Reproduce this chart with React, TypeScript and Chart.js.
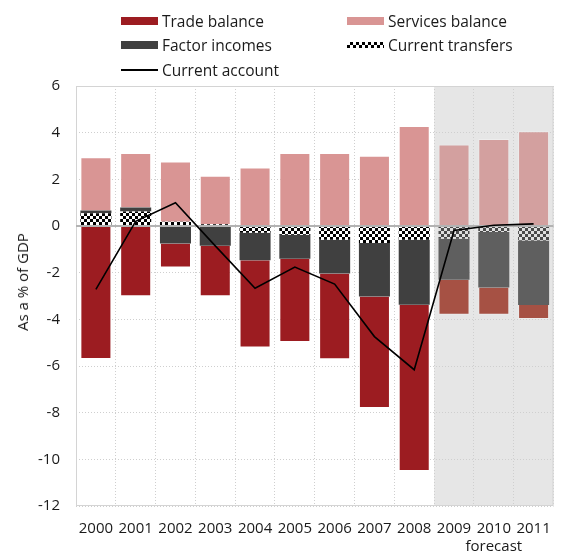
import React, { useEffect, useRef } from "react";
import { Chart, registerables } from "chart.js";

Chart.register(...registerables);

// Current account components, % of GDP
const years = ["2000", "2001", "2002", "2003", "2004", "2005", "2006", "2007", "2008", "2009", "2010", "2011"];
const tradeBalance = [-5.7, -3.01, -1.03, -2.16, -3.74, -3.57, -3.67, -4.78, -7.12, -1.5, -1.16, -0.6];
const servicesBalance = [2.29, 2.34, 2.58, 2.07, 2.51, 3.13, 3.13, 3.01, 4.29, 3.49, 3.73, 4.06];
const factorIncomes = [0.11, 0.17, -0.75, -0.85, -1.18, -1.02, -1.45, -2.29, -2.79, -1.75, -2.38, -2.77];
const currentTransfers = [0.55, 0.62, 0.18, 0.08, -0.29, -0.38, -0.59, -0.73, -0.59, -0.55, -0.26, -0.62];
const currentAccount = [-2.72, 0.2, 1.0, -0.85, -2.67, -1.76, -2.49, -4.74, -6.16, -0.19, 0.03, 0.09];
const forecastStart = 9; // first forecast year index (2009)
const forecastLabelYear = "2010";
const yMin = -12;
const yMax = 6;
const yStep = 2;

const FONT = '"Open Sans", "DejaVu Sans", sans-serif';
const TEXT = "#1a1a1a";

const C = {
  trade: "#9c1c21",
  tradeF: "#a65144",
  services: "#d99594",
  servicesF: "#d3a09f",
  factor: "#404040",
  factorF: "#5f5f5f",
  shade: "#e6e6e6",
};

function checker(a: string, b: string, cell = 3): CanvasPattern | string {
  const c = document.createElement("canvas");
  c.width = cell * 2;
  c.height = cell * 2;
  const g = c.getContext("2d");
  if (!g) return a;
  g.fillStyle = a;
  g.fillRect(0, 0, cell * 2, cell * 2);
  g.fillStyle = b;
  g.fillRect(0, 0, cell, cell);
  g.fillRect(cell, cell, cell, cell);
  const p = g.createPattern(c, "repeat");
  return p || a;
}

const byYear = (hist: any, fc: any) => (ctx: any) => (ctx.dataIndex >= forecastStart ? fc : hist);

const decorPlugin = {
  id: "decor",
  beforeDraw(chart: any) {
    const { ctx, chartArea, scales } = chart;
    const x = scales.x;
    const left = (x.getPixelForValue(forecastStart - 1) + x.getPixelForValue(forecastStart)) / 2;
    ctx.save();
    ctx.fillStyle = C.shade;
    ctx.fillRect(left, chartArea.top, chartArea.right - left, chartArea.bottom - chartArea.top);
    ctx.restore();
  },
  beforeDatasetsDraw(chart: any) {
    const { ctx, chartArea } = chart;
    ctx.save();
    ctx.strokeStyle = "#d4d4d4";
    ctx.lineWidth = 1;
    ctx.strokeRect(chartArea.left + 0.5, chartArea.top + 0.5, chartArea.right - chartArea.left - 1, chartArea.bottom - chartArea.top - 1);
    ctx.restore();
  },
  beforeDatasetDraw(chart: any, args: any) {
    if (args.meta.type !== "line") return;
    const { ctx, chartArea, scales } = chart;
    const y0 = Math.round(scales.y.getPixelForValue(0));
    ctx.save();
    ctx.strokeStyle = "#b3b3b3";
    ctx.lineWidth = 2;
    ctx.beginPath();
    ctx.moveTo(chartArea.left, y0);
    ctx.lineTo(chartArea.right, y0);
    ctx.stroke();
    ctx.restore();
  },
};

function LegendItem(props: { x: number; y: number; swatch: React.CSSProperties; label: string }) {
  const { x, y, swatch, label } = props;
  return (
    <>
      <div style={{ position: "absolute", left: x, ...swatch }} />
      <div
        style={{
          position: "absolute",
          left: x + 41,
          top: y - 11,
          height: 22,
          lineHeight: "22px",
          fontSize: 15.5,
          whiteSpace: "nowrap",
          color: TEXT,
        }}
      >
        {label}
      </div>
    </>
  );
}

export default function App() {
  const canvasRef = useRef<HTMLCanvasElement | null>(null);

  useEffect(() => {
    const canvas = canvasRef.current;
    if (!canvas) return;
    const transfersFill = checker("#000000", "#ffffff");
    const transfersFillF = checker("#4a4a4a", "#e0e0e0");

    const chart = new Chart(canvas, {
      type: "bar",
      data: {
        labels: years.map((y) => (y === forecastLabelYear ? [y, "forecast"] : y)) as any,
        datasets: [
          {
            label: "Current transfers",
            data: currentTransfers,
            backgroundColor: byYear(transfersFill, transfersFillF) as any,
            order: 1,
            stack: "s",
          },
          {
            label: "Factor incomes",
            data: factorIncomes,
            backgroundColor: byYear(C.factor, C.factorF) as any,
            order: 1,
            stack: "s",
          },
          {
            label: "Trade balance",
            data: tradeBalance,
            backgroundColor: byYear(C.trade, C.tradeF) as any,
            borderColor: "rgba(255,255,255,0.25)",
            borderWidth: 1,
            order: 1,
            stack: "s",
          },
          {
            label: "Services balance",
            data: servicesBalance,
            backgroundColor: byYear(C.services, C.servicesF) as any,
            borderColor: "rgba(255,255,255,0.3)",
            borderWidth: 1,
            order: 1,
            stack: "s",
          },
          {
            type: "line",
            label: "Current account",
            data: currentAccount,
            borderColor: "#000000",
            borderWidth: 1.6,
            pointRadius: 0,
            tension: 0,
            fill: false,
            order: 0,
          } as any,
        ],
      },
      options: {
        animation: false,
        responsive: false,
        devicePixelRatio: 1,
        layout: { padding: { top: 86, right: 6, left: 0, bottom: 0 } },
        datasets: {
          bar: { barPercentage: 0.78, categoryPercentage: 1 },
        },
        plugins: {
          legend: { display: false },
          tooltip: { enabled: false },
        },
        scales: {
          x: {
            stacked: true,
            grid: { color: "#cfcfcf", drawTicks: false, offset: true },
            border: { display: false, dash: [1, 2] },
            ticks: { color: TEXT, font: { family: FONT, size: 15 }, padding: 14, maxRotation: 0, autoSkip: false },
            afterFit: (s: any) => {
              s.height = 49;
            },
          },
          y: {
            stacked: true,
            min: yMin,
            max: yMax,
            grid: { color: "#cfcfcf", drawTicks: false },
            border: { display: false, dash: [1, 2] },
            ticks: { stepSize: yStep, color: TEXT, font: { family: FONT, size: 15 }, padding: 16 },
            afterFit: (s: any) => {
              s.width = 76;
            },
          },
        },
      },
      plugins: [decorPlugin],
    });
    return () => chart.destroy();
  }, []);

  const checkerCss = "repeating-conic-gradient(#000 0 25%, #fff 0 50%) 0 0 / 6px 6px";

  return (
    <div
      style={{
        position: "fixed",
        left: 0,
        top: 0,
        width: 565,
        height: 555,
        background: "#ffffff",
        fontFamily: FONT,
        color: TEXT,
      }}
    >
      <canvas ref={canvasRef} width={565} height={555} style={{ position: "absolute", left: 0, top: 0 }} />
      <LegendItem x={121} y={21} label="Trade balance" swatch={{ top: 17, width: 37, height: 8, background: C.trade }} />
      <LegendItem x={347} y={21} label="Services balance" swatch={{ top: 17, width: 37, height: 8, background: C.services }} />
      <LegendItem x={121} y={45} label="Factor incomes" swatch={{ top: 41, width: 37, height: 8, background: C.factor }} />
      <LegendItem x={347} y={45} label="Current transfers" swatch={{ top: 42, width: 37, height: 6, background: checkerCss }} />
      <LegendItem x={121} y={70} label="Current account" swatch={{ top: 69, width: 37, height: 1.6, background: "#000" }} />
      <div
        style={{
          position: "absolute",
          left: 22,
          top: 282,
          transform: "translate(-50%, -50%) rotate(-90deg)",
          whiteSpace: "nowrap",
          fontSize: 15,
          lineHeight: "20px",
          color: TEXT,
        }}
      >
        As a % of GDP
      </div>
    </div>
  );
}
